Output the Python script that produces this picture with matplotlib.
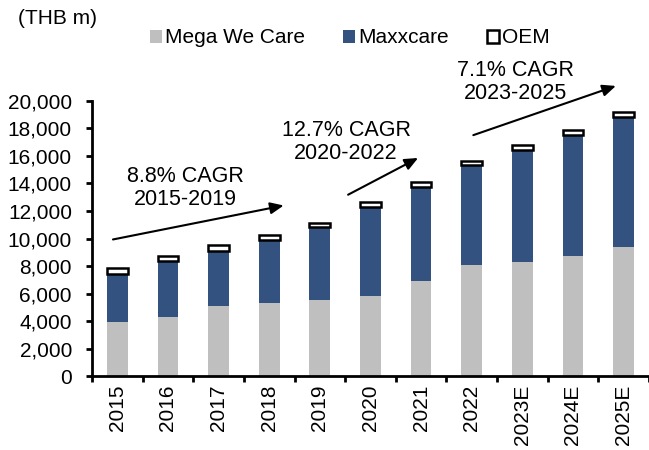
import numpy as np
import matplotlib.pyplot as plt

plt.rcParams['font.family'] = ['Liberation Sans', 'DejaVu Sans']

years = ['2015', '2016', '2017', '2018', '2019', '2020', '2021', '2022', '2023E', '2024E', '2025E']
mega_we_care = [3900, 4270, 5090, 5290, 5500, 5840, 6910, 8070, 8270, 8750, 9380]
maxxcare = [3500, 4100, 4000, 4600, 5350, 6470, 6860, 7280, 8170, 8800, 9480]
oem = [420, 370, 450, 330, 300, 340, 350, 300, 350, 350, 370]

cagr_text = ['8.8% CAGR\n2015-2019', '12.7% CAGR\n2020-2022', '7.1% CAGR\n2023-2025']

fig = plt.figure(figsize=(6.49, 4.5), dpi=100)
ax = fig.add_axes([0.1418, 0.1644, 0.858, 0.6112])

x = np.arange(len(years))
w = 0.41
gray = '#BFBFBF'
blue = '#34527F'

b1 = ax.bar(x, mega_we_care, w, color=gray, label='Mega We Care')
b2 = ax.bar(x, maxxcare, w, bottom=mega_we_care, color=blue, label='Maxxcare')
bottom2 = np.array(mega_we_care) + np.array(maxxcare)
b3 = ax.bar(x, oem, w, bottom=bottom2, color='white', edgecolor='black', linewidth=1.8, label='OEM')

ax.set_xlim(-0.5, len(years) - 0.5)
ax.set_ylim(0, 20000)
ax.set_yticks(np.arange(0, 20001, 2000))
ax.set_yticklabels(['{:,}'.format(v) for v in range(0, 20001, 2000)], fontsize=15)
ax.set_xticks(x)
ax.set_xticklabels(years, rotation=90, fontsize=15)
ax.set_xticks(np.arange(-0.5, len(years), 1), minor=True)
ax.tick_params(axis='x', which='major', length=0, pad=6)
ax.tick_params(axis='x', which='minor', length=4, width=2, direction='out')
ax.tick_params(axis='y', length=4.5, width=2, direction='out', pad=10)

for s in ['top', 'right']:
    ax.spines[s].set_visible(False)
for s in ['left', 'bottom']:
    ax.spines[s].set_linewidth(2)

# CAGR arrows
arrows = [((-0.14, 9890), (3.34, 12440)),
          ((4.51, 13090), (5.99, 15950)),
          ((6.98, 17450), (9.9, 21160))]
for (x0, y0), (x1, y1) in arrows:
    ax.annotate('', xy=(x1, y1), xytext=(x0, y0), annotation_clip=False,
                arrowprops=dict(arrowstyle='-|>,head_length=0.8,head_width=0.35', color='black', lw=1.5))

text_pos = [(1.34, 13670), (4.52, 17020), (7.87, 21380)]
for (tx, ty), t in zip(text_pos, cagr_text):
    ax.text(tx, ty, t, ha='center', va='center', fontsize=15.5, linespacing=1.1)

fig.text(0.028, 0.96, '(THB m)', fontsize=15, va='center', ha='left')

fig.legend(handles=[b1, b2, b3], loc='center', bbox_to_anchor=(0.539, 0.9156), ncol=3,
           frameon=False, fontsize=15, handlelength=0.6, handleheight=0.6,
           handletextpad=0.15, columnspacing=1.8)

plt.savefig('out.png', dpi=100)
